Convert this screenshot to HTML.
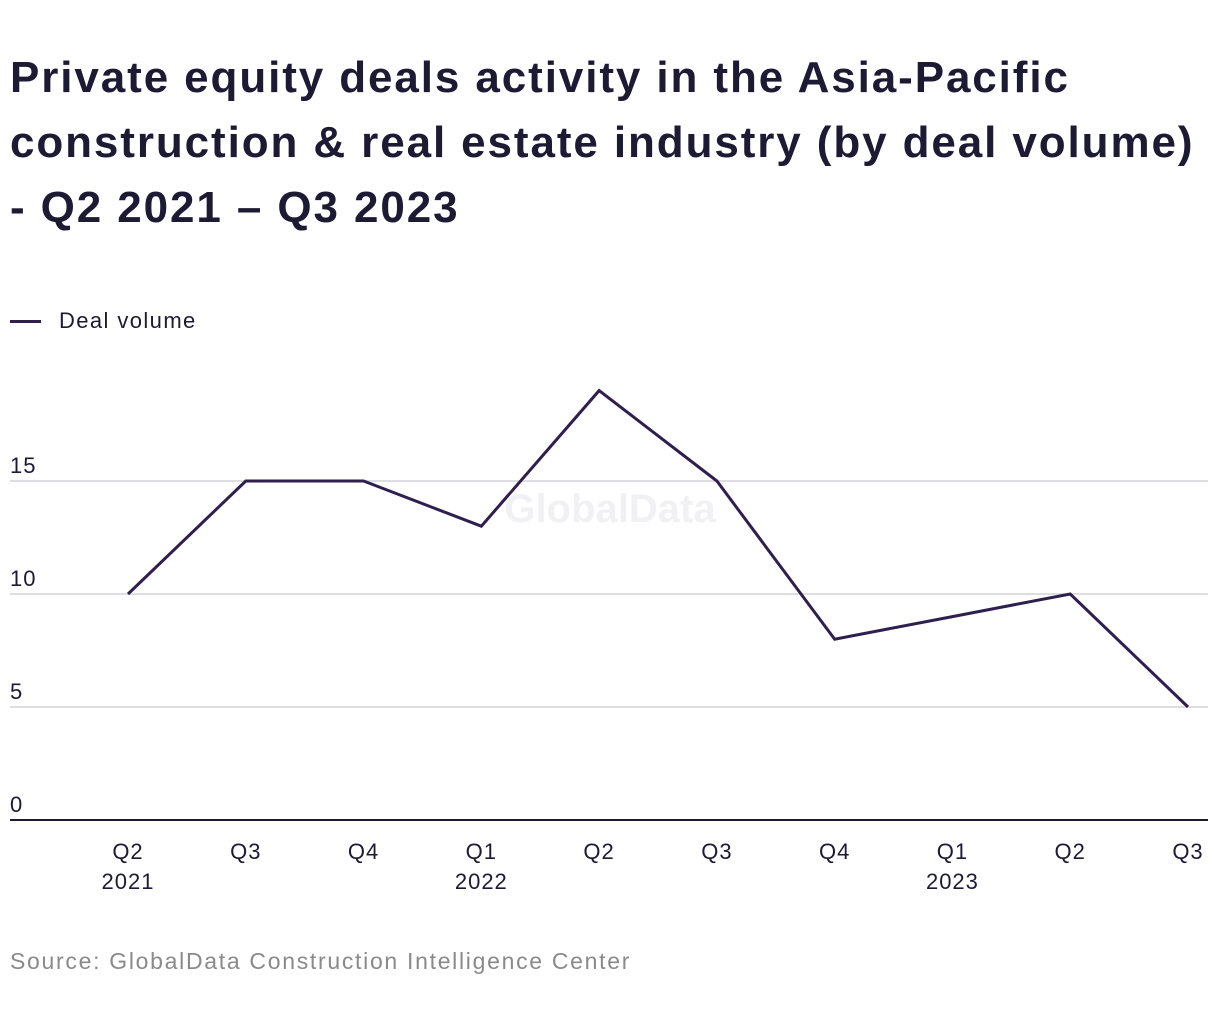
<!DOCTYPE html>
<html><head><meta charset="utf-8"><style>
body{margin:0;width:1220px;height:1020px;background:#fff;font-family:"Liberation Sans",sans-serif;color:#1d1a33;position:relative;overflow:hidden}
#title{position:absolute;left:10px;top:45px;width:1215px;font-size:44px;font-weight:bold;line-height:65px;margin:0;letter-spacing:1.9px;white-space:nowrap}
#legend{position:absolute;left:10px;top:308px;font-size:22px;display:flex;align-items:center;letter-spacing:1.4px}
#legend span.sw{display:inline-block;width:31px;height:3px;background:#2e1f4e;margin-right:18px}
#source{position:absolute;left:10px;top:948px;font-size:23px;color:#8a8a8a;letter-spacing:1.7px}
svg{position:absolute;left:0;top:0}
</style></head><body>
<h1 id="title">Private equity deals activity in the Asia-Pacific<br>construction &amp; real estate industry (by deal volume)<br>- Q2 2021 – Q3 2023</h1>
<div id="legend"><span class="sw"></span><span>Deal volume</span></div>
<svg id="chart" width="1220" height="1020"></svg>
<div id="source">Source: GlobalData Construction Intelligence Center</div>
<script>
const quarters=["Q2","Q3","Q4","Q1","Q2","Q3","Q4","Q1","Q2","Q3"];
const years=["2021","","","2022","","","","2023","",""];
const dealVolume=[10,15,15,13,19,15,8,9,10,5];
const yTicks=[0,5,10,15];
const NS="http://www.w3.org/2000/svg";
const svg=document.getElementById('chart');
const x0=128,x1=1188,yBase=820,pxPerUnit=22.6;
const xs=i=>x0+(x1-x0)*i/(quarters.length-1);
const ys=v=>yBase-v*pxPerUnit;
function mk(t,a){const e=document.createElementNS(NS,t);for(const k in a)e.setAttribute(k,a[k]);svg.appendChild(e);return e;}
const wm=mk('text',{x:610,y:522,'font-size':40,'font-weight':'bold',fill:'#f1f1f3','text-anchor':'middle','font-family':'Liberation Sans'});
wm.textContent='GlobalData';


yTicks.forEach(v=>{
  if(v>0){const g=mk('line',{x1:10,x2:1208,y1:ys(v),y2:ys(v),stroke:'#d4d4d8','stroke-width':1.5});
  
  }
  const t=mk('text',{x:10,y:ys(v)-8,'font-size':22,fill:'#1d1a33','font-family':'Liberation Sans','letter-spacing':1});
  t.textContent=v;
  
  
});
const ax=mk('line',{x1:10,x2:1208,y1:yBase,y2:yBase,stroke:'#1d1a33','stroke-width':2});


quarters.forEach((q,i)=>{
  const t=mk('text',{x:xs(i),y:859,'font-size':22,fill:'#1d1a33','text-anchor':'middle','font-family':'Liberation Sans','letter-spacing':1});
  t.textContent=q;
  
  
  if(years[i]){const y=mk('text',{x:xs(i),y:889,'font-size':22,fill:'#1d1a33','text-anchor':'middle','font-family':'Liberation Sans','letter-spacing':1});
  y.textContent=years[i];
  
  }
});
const pts=dealVolume.map((v,i)=>xs(i)+','+ys(v)).join(' ');
const line=mk('polyline',{points:pts,fill:'none',stroke:'#2e1f4e','stroke-width':3,'stroke-linejoin':'miter'});


</script>
</body></html>
